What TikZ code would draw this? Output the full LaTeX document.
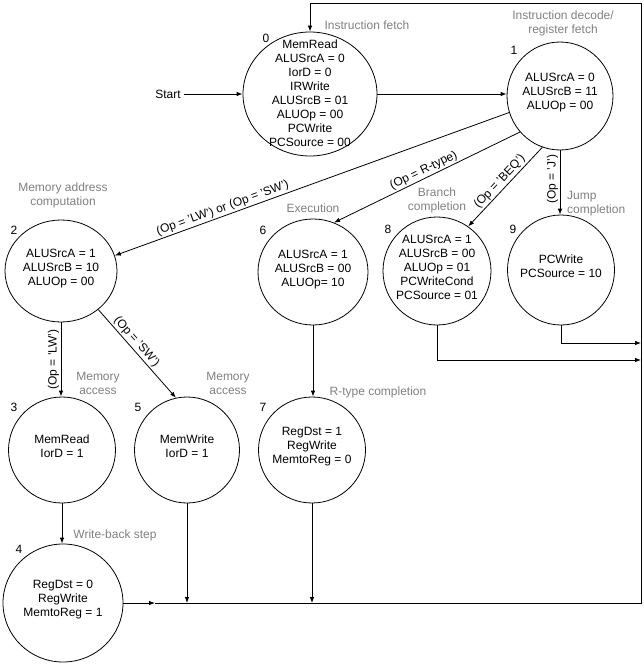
\documentclass[tikz,border=0pt]{standalone}
\usepackage{fontspec}
\setmainfont{Liberation Sans}
\usetikzlibrary{shapes.geometric,arrows.meta}
\definecolor{phasegray}{RGB}{128,128,128}
\newcommand\stt[2][-2pt]{\makebox[0pt]{\raisebox{#1}{\smash{\begin{tabular}{@{}c@{}}#2\end{tabular}}}}}
\begin{document}
\begin{tikzpicture}[x=1pt,y=-1pt,
  txt/.style={font=\fontsize{12}{14}\selectfont},
  state/.style={draw, ellipse, line width=0.8pt, inner sep=0pt, txt},
  phase/.style={txt, text=phasegray, align=center, inner sep=0pt},
  conn/.style={line width=0.8pt},
  arr/.style={conn, -{Latex[length=6pt,width=4.5pt]}},
  elbl/.style={txt, inner sep=1.5pt}
]
\useasboundingbox (0,0) rectangle (644,666);

% states
\node[state, minimum width=134pt, minimum height=124pt] (s0) at (310,94)
  {\stt[-7pt]{MemRead\\ALUSrcA = 0\\IorD = 0\\IRWrite\\ALUSrcB = 01\\ALUOp = 00\\PCWrite\\PCSource = 00}};
\node[state, minimum width=106pt, minimum height=108pt] (s1) at (560,96)
  {\stt[0pt]{ALUSrcA = 0\\ALUSrcB = 11\\ALUOp = 00}};
\node[state, minimum width=112pt, minimum height=102pt] (s2) at (61,271)
  {\stt{ALUSrcA = 1\\ALUSrcB = 10\\ALUOp = 00}};
\node[state, minimum width=110pt, minimum height=106pt] (s6) at (313,272)
  {\stt{ALUSrcA = 1\\ALUSrcB = 00\\ALUOp= 10}};
\node[state, minimum width=108pt, minimum height=108pt] (s8) at (437,271)
  {\stt{ALUSrcA = 1\\ALUSrcB = 00\\ALUOp = 01\\PCWriteCond\\PCSource = 01}};
\node[state, minimum width=107pt, minimum height=110pt] (s9) at (561,270)
  {\stt{PCWrite\\PCSource = 10}};
\node[state, minimum width=107pt, minimum height=106pt] (s3) at (62,450)
  {\stt{MemRead\\IorD = 1}};
\node[state, minimum width=105pt, minimum height=106pt] (s5) at (187,450)
  {\stt{MemWrite\\IorD = 1}};
\node[state, minimum width=107pt, minimum height=106pt] (s7) at (312,450)
  {\stt[0pt]{RegDst = 1\\RegWrite\\MemtoReg = 0}};
\node[state, minimum width=120pt, minimum height=118pt] (s4) at (63,603)
  {\stt[0pt]{RegDst = 0\\RegWrite\\MemtoReg = 1}};

% state numbers
\node[txt] (n0) at (266,38) {0};
\node[txt] (n1) at (514,50) {1};
\node[txt] (n2) at (14,230) {2};
\node[txt] (n6) at (263,230) {6};
\node[txt] (n8) at (388,229) {8};
\node[txt] (n9) at (513,229) {9};
\node[txt] (n3) at (14,407) {3};
\node[txt] (n5) at (138,407) {5};
\node[txt] (n7) at (263,407) {7};
\node[txt] (n4) at (19,549) {4};

% phase labels
\node[phase] (pIF) at (367,25) {Instruction fetch};
\node[phase] (pID) at (563,23) {Instruction decode/\\register fetch};
\node[phase] (pMA) at (63,195) {Memory address\\computation};
\node[phase] (pEX) at (313,208) {Execution};
\node[phase] (pBC) at (437,200) {Branch\\completion};
\node[phase, align=left, anchor=west] (pJC) at (567,204) {Jump\\completion};
\node[phase] (pM1) at (98,383) {Memory\\access};
\node[phase] (pM2) at (228,383) {Memory\\access};
\node[phase] (pRC) at (378,392) {R-type completion};
\node[phase] (pWB) at (115,535) {Write-back step};

% start
\node[txt, inner sep=0pt] (start) at (168,94) {Start};
\draw[arr] (start.east) ++(3pt,0) coordinate (st) (st) -- (st -| s0.west);

% transitions
\draw[arr] (s0.east) -- (s0.east -| s1.west);
\draw[arr] (s1.198) -- node[elbl, sloped, above, pos=0.72] {(Op = 'LW') or (Op = 'SW')} (s2.16);
\draw[arr] (s1.222) -- node[elbl, sloped, above, pos=0.5] {(Op = R-type)} (s6.67);
\draw[arr] (s1.251) -- node[elbl, sloped, above, pos=0.5] {(Op = 'BEQ')} (s8.55);
\draw[arr] (s1.south) -- node[elbl, pos=0.45, rotate=90, anchor=south] {(Op = 'J')} (s1.south |- s9.north);
\draw[arr] (s2.south) -- node[elbl, pos=0.5, rotate=90, anchor=south] {(Op = 'LW')} (s2.south |- s3.north);
\draw[arr] (s2.314) -- node[elbl, sloped, above, pos=0.42] {(Op = 'SW')} (s5.102);
\draw[arr] (s6.south) -- (s6.south |- s7.north);
\draw[arr] (s3.south) -- (s3.south |- s4.north);

% return paths
\coordinate (wb) at (155,603);
\coordinate (bl) at (641,603);
\coordinate (tr) at (641,3);
\coordinate (r8) at (641,360);
\coordinate (r9) at (641,343);
\draw[arr] (s4.east |- wb) -- (wb);
\draw[arr] (s5.south) -- (s5.south |- wb);
\draw[arr] (s7.south) -- (s7.south |- wb);
\draw[arr] (s8.south) |- (r8);
\draw[arr] (s9.south) |- (r9);
\draw[arr] (wb) -- (bl) -- (tr) -- (s0.north |- tr) -- (s0.north);
\end{tikzpicture}
\end{document}
